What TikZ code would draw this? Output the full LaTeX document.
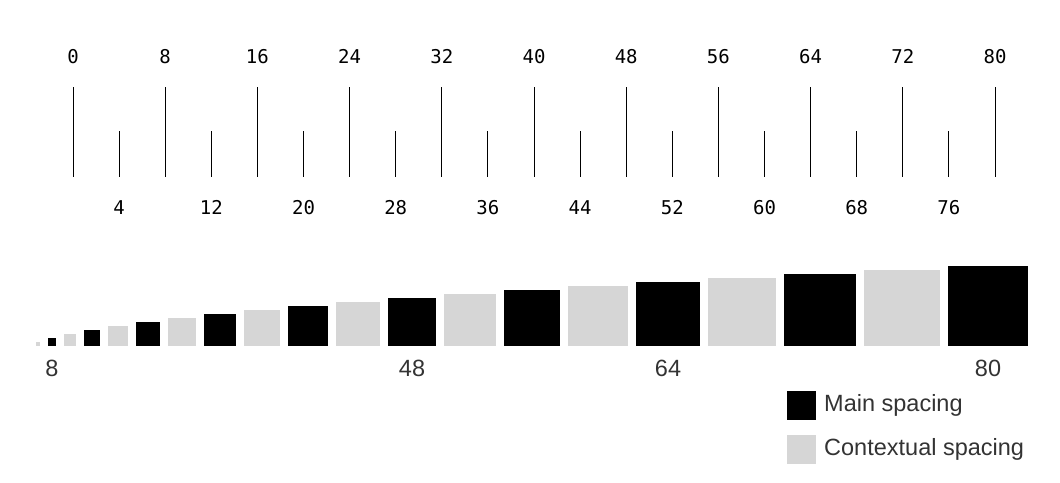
\documentclass[tikz,border=0pt]{standalone}
\usepackage{fontspec}
\setmainfont{Liberation Sans}
\setmonofont{DejaVu Sans Mono}
\usepackage{xcolor}
\usepackage{tikz}
\usetikzlibrary{positioning, calc}
\definecolor{ctxgray}{HTML}{D6D6D6}
\definecolor{lblgray}{HTML}{333333}
\tikzset{
  tick/.style={black, line width=1pt},
  num/.style={font=\ttfamily\fontsize{19}{19}\selectfont, inner sep=0pt, anchor=base},
  sq/.style={rectangle, inner sep=0pt, outer sep=0pt, anchor=south west},
  mainsq/.style={sq, fill=black},
  ctxsq/.style={sq, fill=ctxgray},
  lbl/.style={font=\fontsize{23.5}{23.5}\selectfont, text=lblgray, inner sep=0pt}
}
\begin{document}
\begin{tikzpicture}[x=1pt, y=-1pt]
  \useasboundingbox (0,0) rectangle (1060,482);
  % ruler
  \foreach \k in {0,...,20} {
    \pgfmathsetmacro\xx{73+46.1*\k}
    \pgfmathtruncatemacro\v{4*\k}
    \ifodd\k
      \draw[tick] (\xx,131) -- (\xx,177);
      \node[num] (t\v) at (\xx,214.5) {\v};
    \else
      \draw[tick] (\xx,87) -- (\xx,177);
      \node[num] (t\v) at (\xx,63.5) {\v};
    \fi
  }
  % squares 4..80
  \foreach \k in {1,...,20} {
    \pgfmathsetmacro\xs{36+2*\k*(\k-1)+8*(\k-1)}
    \pgfmathsetmacro\s{4*\k}
    \ifodd\k \def\kind{ctxsq}\else \def\kind{mainsq}\fi
    \node[\kind, minimum size=\s pt] (s\k) at (\xs,346) {};
  }
  \foreach \k/\v in {2/8,12/48,16/64,20/80}
    \node[lbl, below=14pt of s\k] (n\v) {\v};
  % legend
  \node[mainsq, minimum size=29pt] (lmain) at (787,420) {};
  \node[ctxsq, minimum size=29pt] (lctx) at (787,464) {};
  \node[lbl, right=8pt of lmain] (tmain) {Main spacing};
  \node[lbl, right=8pt of lctx] (tctx) {Contextual spacing};
\end{tikzpicture}
\end{document}
